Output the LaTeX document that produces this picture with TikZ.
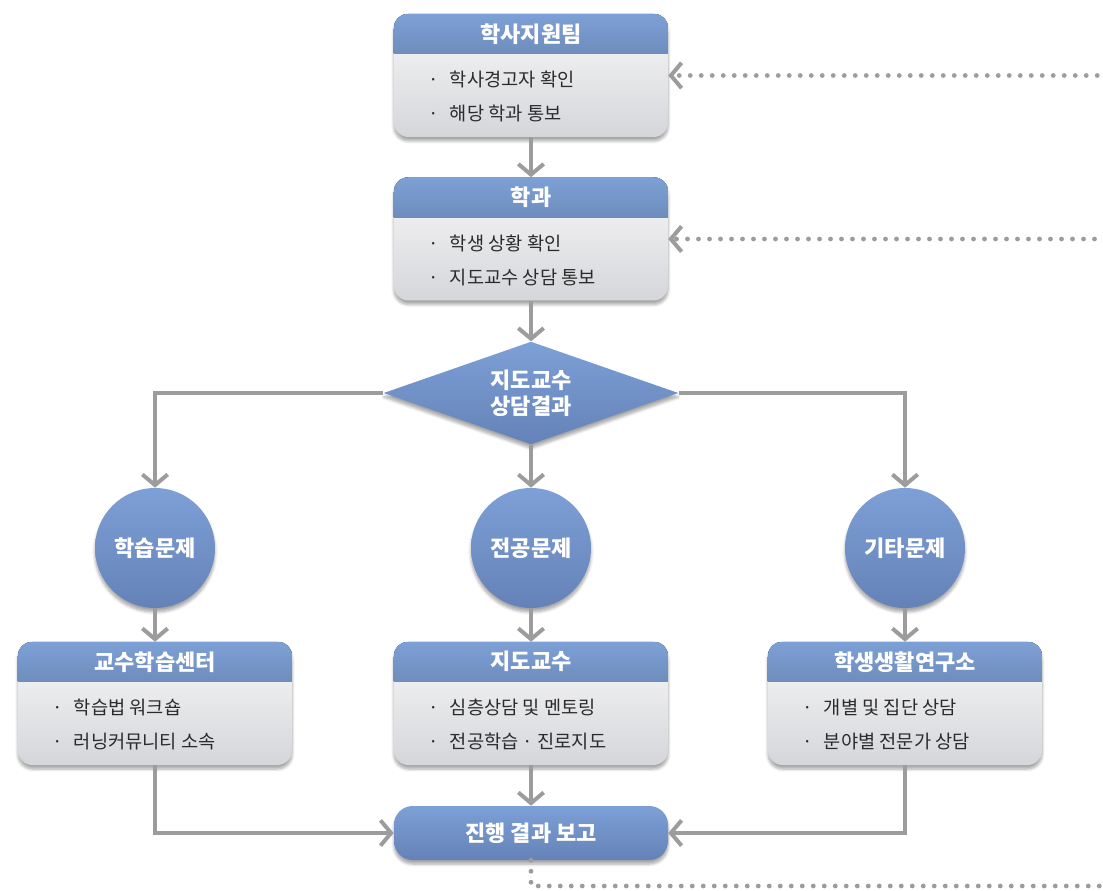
\documentclass[tikz,border=0pt]{standalone}
\usepackage{fontspec}
\setmainfont{Noto Sans CJK KR}
\usetikzlibrary{shapes.geometric,arrows.meta,shadows.blur,positioning,calc}
\definecolor{headblue}{HTML}{7DA0D6}
\definecolor{deepblue}{HTML}{6482B8}
\definecolor{linegray}{HTML}{9C9C9C}
\definecolor{bodytop}{HTML}{F8F8F9}
\definecolor{bodybot}{HTML}{D5D6DA}
\definecolor{inktext}{HTML}{2B2B2B}
\tikzstyle{soft} = [blur shadow={shadow xshift=0pt, shadow yshift=-3pt, shadow blur steps=6, shadow opacity=35}]
\tikzstyle{panel} = [rectangle, rounded corners=11pt, top color=bodytop, bottom color=bodybot,
    minimum width=205.5pt, minimum height=92.25pt, inner sep=0pt, soft]
\tikzstyle{title} = [text=white, font=\bfseries\fontsize{16.5}{19.5}\selectfont, inner sep=0pt, align=center]
\tikzstyle{items} = [align=left, anchor=west, text=inktext, inner sep=0pt,
    font=\fontsize{14}{25.5}\selectfont]
\tikzstyle{topic} = [circle, minimum size=90pt, inner sep=0pt, top color=headblue, bottom color=deepblue, soft, title]
\tikzstyle{decision} = [diamond, aspect=2.86, minimum width=221pt, minimum height=77pt, inner sep=0pt,
    top color=headblue, bottom color=deepblue, soft, title]
\tikzstyle{report} = [rectangle, rounded corners=14pt, minimum width=205.5pt, minimum height=40.5pt,
    top color=headblue, bottom color=deepblue, soft, title]
\tikzstyle{line} = [draw=linegray, line width=3pt, -{Straight Barb[length=8pt,width=19pt]}]
\tikzstyle{feedback} = [draw=linegray, line width=3.6pt, line cap=round, dash pattern=on 0pt off 8.25pt,
    -{Straight Barb[length=8pt,width=19pt,line width=3pt]}]
\newcommand{\dotitem}{\makebox[24pt][c]{·}}
\newcommand{\panelhead}[2]{%
  \begin{scope}
    \clip[rounded corners=11pt] (#1.north west) rectangle (#1.south east);
    \fill[top color=headblue, bottom color=headblue!88!black] (#1.north west) rectangle ($(#1.north east)+(0,40)$);
  \end{scope}
  \node[title] (#1-title) at ($(#1.north)+(0,20)$) {#2};}

\begin{document}
\begin{tikzpicture}[x=0.75pt, y=-0.75pt]
    \useasboundingbox (0,0) rectangle (1103,891);
    % Place nodes
    \node [panel] (support) at (531,75.5) {};
    \panelhead{support}{학사지원팀}
    \node [items] at ($(support.west)+(24,21)$) {\dotitem 학사경고자 확인\\ \dotitem 해당 학과 통보};

    \node [panel] (dept) at (531,239) {};
    \panelhead{dept}{학과}
    \node [items] at ($(dept.west)+(24,21)$) {\dotitem 학생 상황 확인\\ \dotitem 지도교수 상담 통보};

    \node [decision] (result) at (531,393) {지도교수\\상담결과};

    \node [topic] (study) at (155,548) {학습문제};
    \node [topic] (major) at (531,548) {전공문제};
    \node [topic] (other) at (905,548) {기타문제};

    \node [panel] (center) at (155,703.5) {};
    \panelhead{center}{교수학습센터}
    \node [items] at ($(center.west)+(24,21)$) {\dotitem 학습법 워크숍\\ \dotitem 러닝커뮤니티 소속};

    \node [panel] (advisor) at (531,703.5) {};
    \panelhead{advisor}{지도교수}
    \node [items] at ($(advisor.west)+(24,21)$) {\dotitem 심층상담 및 멘토링\\ \dotitem 전공학습 · 진로지도};

    \node [panel] (life) at (905,703.5) {};
    \panelhead{life}{학생생활연구소}
    \node [items] at ($(life.west)+(24,21)$) {\dotitem 개별 및 집단 상담\\ \dotitem 분야별 전문가 상담};

    \node [report] (report) at (531,833) {진행 결과 보고};
    \coordinate (loopcorner) at (1105.5,886);

    \path [line] (support) -- (dept);
    \path [line] (dept) -- (result);
    \path [line] (result.west) -| (study);
    \path [line] (result) -- (major);
    \path [line] (result.east) -| (other);
    \path [line] (study) -- (center);
    \path [line] (major) -- (advisor);
    \path [line] (other) -- (life);
    \path [line] (center.south) |- (report.west);
    \path [line] (advisor) -- (report);
    \path [line] (life.south) |- (report.east);
    \path [feedback] (report.south) |- (loopcorner) |- (support.east);
    \path [feedback] (loopcorner |- dept.east) -- (dept.east);
\end{tikzpicture}
\end{document}
